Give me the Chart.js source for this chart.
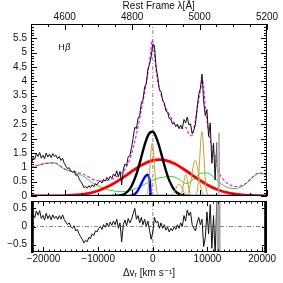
<!DOCTYPE html>
<html><head><meta charset="utf-8">
<script src="https://cdn.jsdelivr.net/npm/chart.js@4"></script>
<style>
html,body{margin:0;padding:0;background:#fff;}
#wrap{position:relative;width:283px;height:283px;overflow:hidden;background:#fff;}
canvas{position:absolute;left:0;}
#c1{top:0;} #c2{top:191px;}
</style></head><body>
<div id="wrap"><canvas id="c1" width="283" height="206"></canvas><canvas id="c2" width="283" height="92"></canvas></div>
<script>
// ---- axis ranges (velocity in km/s, rest wavelength in Angstrom) ----
const V_MIN = -22283, V_MAX = 20886;
const LAM_MIN = 4500, LAM_MAX = 5200;
const FLUX_MIN = 0, FLUX_MAX = 6;
const RES_MIN = -0.7, RES_MAX = 0.7;

// ---- tick labels ----
const LAM_TICKS = [4600, 4800, 5000, 5200];
const V_TICKS = [-20000, -10000, 0, 10000, 20000];
const FLUX_TICKS = [0, 0.5, 1, 1.5, 2, 2.5, 3, 3.5, 4, 4.5, 5, 5.5];
const RES_TICKS = [-0.5, 0, 0.5];

// ---- observed spectrum (black) ----
const dataV = [-22200,-21900,-21600,-21300,-21000,-20700,-20400,-20100,-19800,-19500,-19200,-18900,-18600,-18300,-18000,-17700,-17400,-17100,-16800,-16500,-16200,
  -15900,-15600,-15300,-15000,-14700,-14400,-14100,-13800,-13500,-13200,-12900,-12600,-12300,-12000,-11700,-11400,-11100,-10800,-10500,-10200,-9900,
  -9600,-9300,-9000,-8700,-8400,-8100,-7800,-7500,-7200,-6900,-6600,-6300,-6000,-5700,-5400,-5100,-4800,-4500,-4200,
  -3900,-3600,-3300,-3000,-2700,-2400,-2100,-1800,-1500,-1200,-900,-600,-300,0,300,600,900,1200,
  1500,1800,2100,2400,2700,3000,3300,3600,3900,4200,4500,4800,5100,5400,5700,6000,6300,6600,6900,7200,
  7500,7800,8100,8400,8700,9000,9300,9600,9900,10200,10500,10800,11100,11400,11700,12000,12100,12250];
const dataF = [1.12,1.35,1.28,1.48,1.38,1.52,1.32,1.42,1.30,1.50,1.36,1.46,1.34,1.48,1.38,1.42,1.30,1.38,1.24,1.32,1.14,
  1.04,0.95,0.99,0.88,0.82,0.875,0.72,0.75,0.61,0.51,0.42,0.29,0.34,0.27,0.36,0.29,0.39,0.32,0.43,0.39,0.48,
  0.53,0.45,0.58,0.52,0.65,0.56,0.69,0.62,0.77,0.69,0.88,0.67,0.86,0.39,0.92,1.12,1.06,1.38,1.40,
  1.68,2.03,2.40,2.35,2.72,2.80,3.25,3.35,3.80,3.92,4.43,4.60,4.85,5.30,5.25,4.50,4.15,3.70,
  3.65,3.33,3.25,2.96,2.93,2.70,2.68,2.51,2.55,2.42,2.50,2.35,2.47,2.35,2.67,2.55,2.75,2.48,2.52,2.17,
  2.30,2.50,3.08,3.55,3.75,4.25,3.30,2.80,3.02,2.08,2.55,1.14,1.84,0.56,1.87,0.08,2.20,0.30];
const MASK_FROM_V = 11700; // masked pixels drawn grey

// ---- total model (magenta) ----
const magV = [-22283,-21000,-20000,-19000,-18000,-17000,-16000,-15000,-14000,-13000,-12000,-11000,-10000,-9000,-8000,-7000,-6000,-5000,-4000,-3500,-3000,-2500,-2000,-1500,-1000,-700,-400,-100,200,500,800,1400,2300,3000,3800,4500,5000,5500,6000,6500,7150,7700,8200,8700,9000,9300,9600,10000,10500,11000,11500,12000,12500,13000,14000,15000,16000,17000,18000,19000,19500,20000,20886];
const magF = [1.00,1.07,1.12,1.15,1.16,1.06,0.93,0.88,0.84,0.78,0.69,0.58,0.53,0.53,0.56,0.63,0.76,0.96,1.40,1.75,2.15,2.60,3.10,3.60,4.15,4.55,5.05,5.45,5.10,4.55,4.10,3.60,3.10,2.85,2.58,2.45,2.38,2.35,2.40,2.20,2.10,2.55,3.10,3.70,4.05,3.85,3.10,2.50,1.95,1.60,1.30,0.85,0.68,0.55,0.40,0.33,0.35,0.44,0.62,0.78,0.80,0.79,0.73];

// ---- Fe II + continuum (green) ----
const greenV = [-22283,-21000,-20000,-19000,-18000,-17000,-16000,-15000,-14000,-13000,-12000,-11000,-10000,-9000,-8000,-7000,-6000,-5000,-4000,-3000,-2000,-1000,0,1000,2000,3000,4000,5000,5500,6000,6500,7000,8000,9000,10000,11000,12000,13000,14000,15000,16000,17000,18000,19000,19500,20000,20886];
const greenF = [1.00,1.07,1.12,1.15,1.15,1.05,0.92,0.86,0.80,0.72,0.60,0.45,0.35,0.27,0.21,0.17,0.15,0.16,0.20,0.27,0.36,0.46,0.55,0.62,0.66,0.68,0.66,0.56,0.48,0.44,0.45,0.52,0.68,0.80,0.80,0.68,0.50,0.36,0.28,0.26,0.30,0.42,0.60,0.76,0.79,0.78,0.72];

// ---- very broad component (red) ----
const redV = [-22283,-20000,-18000,-16000,-14000,-12000,-10000,-8000,-6000,-4000,-2000,0,1200,2000,4000,6000,8000,10000,12000,14000,16000,18000,20000,20886];
const redF = [0.0002,0.001,0.004,0.013,0.036,0.087,0.184,0.346,0.572,0.838,1.085,1.242,1.27,1.258,1.125,0.891,0.623,0.386,0.211,0.102,0.044,0.017,0.005,0.003];

// ---- broad component (black thick) ----
const bgV = [-7500,-7000,-6000,-5000,-4000,-3000,-2500,-2000,-1500,-1000,-500,0,500,1000,1500,2000,2500,3000,4000,5000,6000,7000];
const bgF = [0,0.004,0.021,0.092,0.305,0.76,1.08,1.436,1.78,2.06,2.22,2.24,2.10,1.84,1.51,1.15,0.82,0.545,0.195,0.053,0.011,0.002];

// ---- blueshifted component (blue) ----
const blueV = [-22283,-4500,-4000,-3500,-3000,-2500,-2000,-1500,-1200,-1000,-800,-600,-500,-420,-380,20886];
const blueF = [0,0,0.01,0.04,0.12,0.27,0.47,0.65,0.72,0.74,0.71,0.58,0.40,0.12,0,0];

// ---- narrow lines (gold): Hb, [OIII]4959 wing+core, [OIII]5007 wing+core ----
const hbNarV = [-4000,-1700,-1400,-1100,-900,-700,-500,-300,-100,100,300,500,700,900,1200,1500,2600];
const hbNarF = [0,0,0.005,0.058,0.20,0.53,1.06,1.61,1.85,1.61,1.06,0.53,0.20,0.058,0.005,0,0];
const o4959wV = [1500,2600,3000,3300,3600,3900,4200,4500,4800,5100,5400,5700,6000,6300,6600,7000];
const o4959wF = [0,0,0.005,0.018,0.057,0.136,0.255,0.37,0.42,0.37,0.255,0.136,0.057,0.018,0.005,0];
const o4959nV = [4430,4730,5030,5230,5430,5630,5830,6030,6230,6430,6630,6830,7030,7330,7630];
const o4959nF = [0,0.002,0.024,0.082,0.216,0.43,0.65,0.75,0.65,0.43,0.216,0.082,0.024,0.002,0];
const o5007wV = [5560,5960,6260,6560,6860,7160,7460,7760,8060,8360,8660,8960,9260,9560,9960];
const o5007wF = [0,0.014,0.055,0.17,0.41,0.76,1.10,1.25,1.10,0.76,0.41,0.17,0.055,0.014,0];
const o5007nV = [7380,7680,7980,8180,8380,8580,8780,8980,9180,9380,9580,9780,9980,10280,10580,11700];
const o5007nF = [0,0.007,0.07,0.245,0.65,1.29,1.96,2.25,1.96,1.29,0.65,0.245,0.07,0.007,0,0];

// ---- residuals (bottom panel) ----
const resV = dataV.slice(0, dataV.indexOf(11700) + 1).concat([11850,11950,12050,12150,12250]);
const resF = [0.12,0.33,0.24,0.425,0.31,0.435,0.22,0.305,0.175,0.365,0.215,0.31,0.185,0.32,0.22,0.28,0.19,0.30,0.20,0.32,0.19,
  0.12,0.05,0.10,0.0,-0.05,0.02,-0.12,-0.08,-0.20,-0.28,-0.35,-0.45,-0.38,-0.42,-0.30,-0.33,-0.20,-0.25,-0.12,-0.15,-0.05,
  0.0,-0.08,0.05,-0.02,0.10,0.0,0.12,0.03,0.15,0.05,0.20,-0.05,0.10,-0.42,0.05,0.18,0.02,0.22,0.10,
  0.20,0.35,0.50,0.20,0.30,0.10,0.25,0.05,0.20,0.0,0.15,-0.10,-0.35,-0.15,0.25,0.10,0.15,-0.05,
  0.10,-0.05,0.05,-0.10,-0.02,-0.15,-0.05,-0.12,0.0,-0.08,0.05,-0.05,0.10,0.0,0.30,0.15,0.45,0.30,0.40,0.05,
  -0.05,-0.12,0.10,0.25,0.05,0.20,-0.55,-0.30,0.40,-0.20,0.60,-0.60,0.30,-0.80,0.70,-1.2,1.2,-1.2,1.2,-1.2];
const EDGE_BARS_V = [-22050, 20650];

// ---- minor tick settings ----
const LAM_MAJOR = 200, LAM_MINOR = 50;
const V_MAJOR = 10000, V_MINOR = 1000;
const Y_MAJOR = 0.5, Y_MINOR = 0.1;
const LINE_LABEL = {text: 'H', greek: 'β', v: -17300, y: 5.18};

const FONT = "'Liberation Sans', 'DejaVu Sans', Arial, sans-serif";
Chart.defaults.font.family = FONT;
Chart.defaults.font.size = 10;
Chart.defaults.color = '#111';

const pts = (xs, ys) => xs.map((x, i) => ({x, y: ys[i]}));
const line = (data, color, width, extra) => Object.assign({data, borderColor: color, borderWidth: width,
  pointRadius: 0, pointHoverRadius: 0, fill: false, tension: 0}, extra || {});
const smooth = {cubicInterpolationMode: 'monotone'};
const dashdot = {borderDash: [4, 2, 1, 2]};
const minus = s => String(s).replace('-', '\u2212');
const fmtY = v => minus(Math.round(v * 10) / 10);
const fmtX = v => minus(Math.round(v));
const GOLD = '#c99a3c';
const maskSeg = {segment: {borderColor: c => c.p0.parsed.x >= MASK_FROM_V ? '#a0a0a0' : undefined}};
const setTicks = vals => (s => { s.ticks = vals.map(v => ({value: v})); });

function framePlugin(xId, xMinor, xRatio, yMinor, yRatio, majLen, minLen, drawLabel) {
  return {id: 'frame', afterDatasetsDraw(chart) {
    const {ctx, chartArea: a} = chart;
    const L = Math.round(a.left), R = Math.round(a.right), T = Math.round(a.top), B = Math.round(a.bottom);
    ctx.save();
    ctx.strokeStyle = '#000'; ctx.lineWidth = 1;
    ctx.beginPath();
    const xs = chart.scales[xId];
    for (let n = Math.ceil(xs.min / xMinor - 1e-9); n * xMinor <= xs.max + 1e-6; n++) {
      const len = (n % xRatio === 0) ? majLen : minLen;
      const px = Math.round(xs.getPixelForValue(n * xMinor)) + 0.5;
      ctx.moveTo(px, B); ctx.lineTo(px, B - len);
      ctx.moveTo(px, T); ctx.lineTo(px, T + len);
    }
    const ys = chart.scales.y;
    for (let n = Math.ceil(ys.min / yMinor - 1e-9); n * yMinor <= ys.max + 1e-6; n++) {
      const len = (n % yRatio === 0) ? majLen : minLen;
      const py = Math.round(ys.getPixelForValue(n * yMinor)) + 0.5;
      ctx.moveTo(L, py); ctx.lineTo(L + len, py);
      ctx.moveTo(R, py); ctx.lineTo(R - len, py);
    }
    ctx.stroke();
    ctx.strokeRect(L + 0.5, T + 0.5, R - L - 1, B - T - 1);
    if (drawLabel) {
      const x0 = chart.scales.x.getPixelForValue(LINE_LABEL.v);
      const y0 = ys.getPixelForValue(LINE_LABEL.y);
      ctx.fillStyle = '#111'; ctx.textBaseline = 'middle'; ctx.textAlign = 'left';
      ctx.font = "9px " + FONT;
      ctx.fillText(LINE_LABEL.text, x0, y0);
      const w = ctx.measureText(LINE_LABEL.text).width;
      ctx.font = "italic 9px " + FONT;
      ctx.fillText(LINE_LABEL.greek, x0 + w + 0.5, y0);
    }
    ctx.restore();
  }};
}

const noGrid = {display: false, drawTicks: false};
const noBorder = {display: false};

new Chart(document.getElementById('c1'), {
  type: 'line',
  data: {datasets: [
    line(pts(dataV, dataF), '#111', 1, maskSeg),
    line(pts(magV, magF), '#ff00ff', 1.1, Object.assign({borderDash: [3, 2]}, smooth)),
    line(pts(hbNarV, hbNarF), GOLD, 1, smooth),
    line(pts(o4959wV, o4959wF), GOLD, 1, smooth),
    line(pts(o4959nV, o4959nF), GOLD, 1, smooth),
    line(pts(o5007wV, o5007wF), GOLD, 1, smooth),
    line(pts(o5007nV, o5007nF), GOLD, 1, smooth),
    line(pts(bgV, bgF), '#000', 2.4, smooth),
    line(pts(blueV, blueF), '#0000ff', 2.4, smooth),
    line(pts(redV, redF), '#ff0000', 2.8, smooth),
    line(pts(greenV, greenF), '#22dd22', 1, smooth),
    line([{x: 0, y: FLUX_MIN}, {x: 0, y: FLUX_MAX}], '#888', 1, dashdot)
  ]},
  options: {
    responsive: false, animation: false, devicePixelRatio: 1, events: [],
    layout: {padding: {left: 0, right: 16, top: 0, bottom: 10}},
    plugins: {legend: {display: false}, tooltip: {enabled: false}},
    scales: {
      x: {type: 'linear', min: V_MIN, max: V_MAX, display: false},
      x2: {type: 'linear', position: 'top', min: LAM_MIN, max: LAM_MAX, grid: noGrid, border: noBorder,
        afterBuildTicks: setTicks(LAM_TICKS),
        ticks: {autoSkip: false, maxRotation: 0, padding: 1, callback: v => String(v)},
        title: {display: true, text: '       Rest Frame λ[Å]', padding: {top: 0, bottom: 0}},
        afterFit: s => { s.height = 24; }},
      y: {type: 'linear', min: FLUX_MIN, max: FLUX_MAX, grid: noGrid, border: noBorder,
        afterBuildTicks: setTicks(FLUX_TICKS),
        ticks: {autoSkip: false, padding: 4, callback: fmtY},
        afterFit: s => { s.width = 31; }}
    }
  },
  plugins: [framePlugin('x2', LAM_MINOR, LAM_MAJOR / LAM_MINOR, Y_MINOR, Y_MAJOR / Y_MINOR, 6, 3, true)]
});

new Chart(document.getElementById('c2'), {
  type: 'line',
  data: {datasets: [
    line(pts(resV, resF), '#111', 1, maskSeg),
    line([{x: EDGE_BARS_V[0], y: RES_MIN}, {x: EDGE_BARS_V[0], y: RES_MAX}], '#000', 3),
    line([{x: EDGE_BARS_V[1], y: RES_MIN}, {x: EDGE_BARS_V[1], y: RES_MAX}], '#000', 3),
    line([{x: V_MIN, y: 0}, {x: V_MAX, y: 0}], '#888', 1, dashdot),
    line([{x: 0, y: RES_MIN}, {x: 0, y: RES_MAX}], '#888', 1, dashdot)
  ]},
  options: {
    responsive: false, animation: false, devicePixelRatio: 1, events: [],
    layout: {padding: {left: 0, right: 16, top: 10, bottom: 0}},
    plugins: {legend: {display: false}, tooltip: {enabled: false}},
    scales: {
      x: {type: 'linear', position: 'bottom', min: V_MIN, max: V_MAX, grid: noGrid, border: noBorder,
        afterBuildTicks: setTicks(V_TICKS),
        ticks: {autoSkip: false, maxRotation: 0, padding: 1, callback: fmtX},
        title: {display: true, text: 'Δvᵣ [km s⁻¹]', padding: {top: 0, bottom: 4}},
        afterFit: s => { s.height = 31; }},
      y: {type: 'linear', min: RES_MIN, max: RES_MAX, grid: noGrid, border: noBorder,
        afterBuildTicks: setTicks(RES_TICKS),
        ticks: {autoSkip: false, padding: 4, callback: fmtY},
        afterFit: s => { s.width = 31; }}
    }
  },
  plugins: [framePlugin('x', V_MINOR, V_MAJOR / V_MINOR, Y_MINOR, Y_MAJOR / Y_MINOR, 5, 2.5, false)]
});
</script>
</body></html>
